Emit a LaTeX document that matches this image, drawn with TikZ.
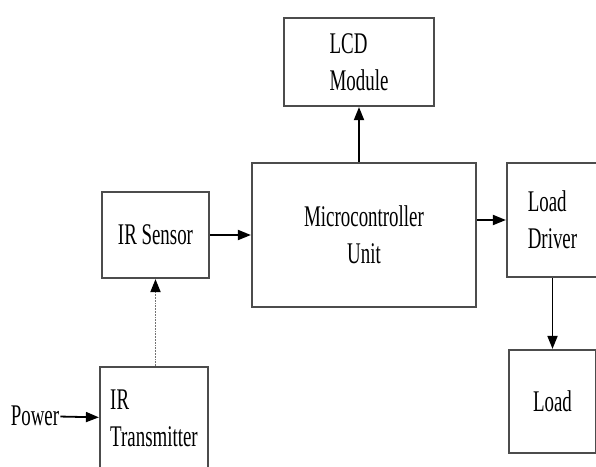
\documentclass[tikz,border=0pt]{standalone}
\usepackage{fontspec}
\setmainfont[FakeStretch=0.63]{Liberation Serif}
\usetikzlibrary{arrows.meta,positioning,calc}
\tikzset{blk/.style={draw=black!70,line width=2.2pt,fill=white,inner sep=0pt,align=left,font=\fontsize{30}{37}\selectfont},
 lnk/.style={line width=1.8pt,-{Triangle[length=13pt,width=10pt]}}}
\begin{document}
\begin{tikzpicture}[x=1pt,y=-1pt]
\useasboundingbox (0,0) rectangle (596,466);
\node[blk,minimum width=150pt,minimum height=88pt] (lcd) at (359,62) {LCD\\Module};
\node[blk,minimum width=107pt,minimum height=86pt] (sensor) at (155.5,235) {IR Sensor};
\node[blk,align=center,minimum width=224pt,minimum height=144pt] (mcu) at (364,235) {Microcontroller\\Unit};
\node[blk,minimum width=91pt,minimum height=114pt] (driver) at (552.5,220) {Load\\Driver};
\node[blk,minimum width=87pt,minimum height=103pt] (load) at (552.5,401.5) {Load};
\node[blk,minimum width=108pt,minimum height=103pt] (tx) at (154,418.5) {IR\\Transmitter};
\node[font=\fontsize{30}{37}\selectfont,inner sep=1pt] (power) at (35,416) {Power};
\draw[lnk] (power) -- (tx);\draw[lnk] (sensor) -- (mcu);
\draw[lnk] (mcu.north -| lcd) -- (lcd);\draw[lnk] (mcu.east |- driver) -- (driver);
\draw[lnk] (driver) -- (load);
\draw[lnk,draw=black!55,densely dotted,-{Triangle[length=13pt,width=10pt,color=black]}] (tx.north -| sensor) -- (sensor);
\end{tikzpicture}
\end{document}
